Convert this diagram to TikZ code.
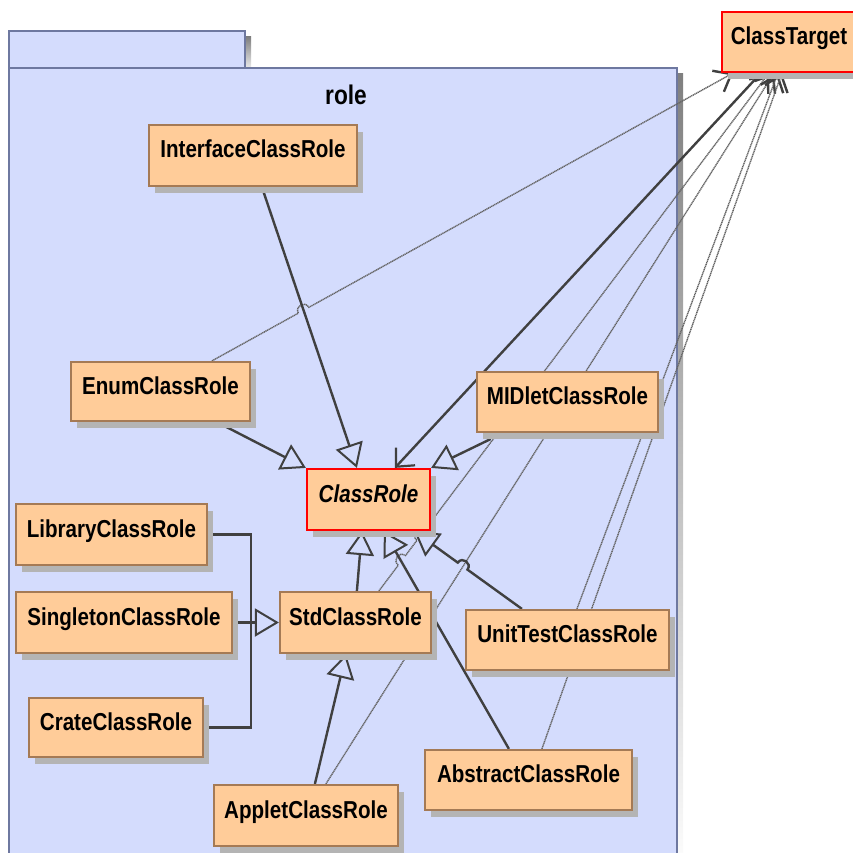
\documentclass[tikz,border=0pt]{standalone}
\usepackage{fontspec}
\newfontfamily\umlfont{Liberation Sans}[FakeStretch=0.84]
\usetikzlibrary{arrows.meta,calc,shadows}
\pgfdeclarelayer{bg}
\pgfdeclarelayer{edges}
\pgfsetlayers{bg,edges,main}

\definecolor{pkgfill}{RGB}{212,220,253}
\definecolor{pkgline}{RGB}{110,120,160}
\definecolor{boxfill}{RGB}{255,204,153}
\definecolor{boxline}{RGB}{165,122,85}
\definecolor{shade}{RGB}{180,180,180}
\definecolor{edgecol}{RGB}{64,64,64}
\definecolor{depcol}{RGB}{100,100,100}

\tikzset{
  classbox/.style={draw=boxline, line width=2.2pt, fill=boxfill, inner sep=0pt,
    text height=17pt, text depth=12pt,
    font=\umlfont\bfseries\fontsize{24.5}{28}\selectfont,
    drop shadow={shadow xshift=6pt, shadow yshift=-7pt, fill=shade, opacity=1}},
  keybox/.style={classbox, draw=red},
  pkgbox/.style={draw=pkgline, line width=2.4pt, fill=pkgfill},
  generalize/.style={draw=edgecol, line width=2.4pt,
    -{Triangle[open, length=24pt, width=28pt, line width=2pt]}},
  plainedge/.style={draw=edgecol, line width=2.4pt},
  assoc/.style={draw=edgecol, line width=2.4pt,
    -{Straight Barb[length=14pt, width=26pt, line width=2.2pt]}},
  depend/.style={draw=depcol, line width=1.4pt, dash pattern=on 1.2pt off 0.6pt,
    -{Straight Barb[length=15pt, width=24pt, line width=2.4pt, color=edgecol]}},
}

% class box given by its corners (x1,y1) (x2,y2)
\newcommand\classnode[7][classbox]{%
  \node[#1, minimum width={#5-#3}, minimum height={#6-#4}] (#2)
    at ({(#3+#5)/2},{(#4+#6)/2}) {#7};}

% straight connector with one line jump at fraction #4
\newcommand\jumpone[5][]{%
  \coordinate (ja) at ($(#2)!#4!(#3)$);
  \draw[#1] (#2) -- ($(ja)!6pt!(#2)$) to[bend #5=90, looseness=1.7]
    ($(ja)!6pt!(#3)$) -- (#3);}

% straight connector with two line jumps at fractions #4 and #5
\newcommand\jumptwo[6][]{%
  \coordinate (ja) at ($(#2)!#4!(#3)$);
  \coordinate (jb) at ($(#2)!#5!(#3)$);
  \draw[#1] (#2) -- ($(ja)!6pt!(#2)$) to[bend #6=90, looseness=1.7]
    ($(ja)!6pt!(#3)$) -- ($(jb)!6pt!(#2)$) to[bend #6=90, looseness=1.7]
    ($(jb)!6pt!(#3)$) -- (#3);}

\begin{document}
\begin{tikzpicture}[x=1pt, y=-1pt]
\useasboundingbox (0,0) rectangle (853,853);

% package "role"
\begin{pgfonlayer}{bg}
  \clip (0,0) rectangle (853,853);
  \fill[shade] (15,37) rectangle (251,74);
  \fill[shade] (15,74) rectangle (683,880);
  \path[pkgbox] (9,31) rectangle (245,68);
  \path[pkgbox] (9,68) rectangle (677,874);
\end{pgfonlayer}

\clip (0,0) rectangle (853,853);
\node[font=\umlfont\bfseries\fontsize{27}{30}\selectfont, anchor=base, inner sep=0pt]
  (pkgname) at (346,105) {role};

% classes
\classnode{ic}{149}{125}{357}{186}{InterfaceClassRole}
\classnode{en}{71}{362}{250}{421}{EnumClassRole}
\classnode{mi}{477}{372}{658}{432}{MIDletClassRole}
\classnode[keybox]{cr}{307}{469}{430}{530}{\itshape ClassRole}
\classnode{li}{16}{504}{207}{565}{LibraryClassRole}
\classnode{si}{16}{592}{232}{653}{SingletonClassRole}
\classnode{ca}{29}{698}{203}{757}{CrateClassRole}
\classnode{sd}{280}{592}{431}{653}{StdClassRole}
\classnode{ut}{466}{610}{669}{670}{UnitTestClassRole}
\classnode{ab}{425}{750}{632}{810}{AbstractClassRole}
\classnode{ap}{214}{785}{398}{846}{AppletClassRole}
\classnode[keybox]{ct}{722}{12}{856}{72}{ClassTarget}

\begin{pgfonlayer}{edges}
  \clip (0,0) rectangle (853,853);
  % connection points on the class borders
  \coordinate (icB) at ($(ic.south west)+(114,0)$);
  \coordinate (enB) at ($(en.south west)+(147,0)$);
  \coordinate (enT) at ($(en.north west)+(142,0)$);
  \coordinate (miB) at ($(mi.south west)+(27,0)$);
  \coordinate (sdT) at ($(sd.north west)+(78,0)$);
  \coordinate (sdT2) at ($(sd.north west)+(100,0)$);
  \coordinate (sdB) at ($(sd.south west)+(67,0)$);
  \coordinate (utT) at ($(ut.north west)+(57,0)$);
  \coordinate (utT2) at ($(ut.north west)+(112,0)$);
  \coordinate (abT) at ($(ab.north west)+(85,0)$);
  \coordinate (abT2) at ($(ab.north west)+(118,0)$);
  \coordinate (apT) at ($(ap.north west)+(102,0)$);
  \coordinate (apT2) at ($(ap.north west)+(113,0)$);
  \coordinate (crT1) at ($(cr.north west)+(51,0)$);
  \coordinate (crT2) at ($(cr.north west)+(89,0)$);
  \coordinate (crB1) at ($(cr.south west)+(56,0)$);
  \coordinate (crB2) at ($(cr.south west)+(78,0)$);
  \coordinate (crB3) at ($(cr.south east)+(-17,0)$);
  \coordinate (ct1) at ($(ct.south west)+(12,0)$);
  \coordinate (ct2) at ($(ct.south west)+(40,0)$);
  \coordinate (ct3) at ($(ct.south west)+(48,0)$);
  \coordinate (ct4) at ($(ct.south west)+(53,0)$);
  \coordinate (ct5) at ($(ct.south west)+(57,0)$);
  \coordinate (ct6) at ($(ct.south west)+(61,0)$);
  \coordinate (bus) at ($(si.east)+(18,0)$);

  % dependencies on ClassTarget
  \jumpone[depend]{enT}{ct1}{0.176}{left}
  \jumptwo[depend]{sdT2}{ct3}{0.059}{0.107}{left}
  \jumpone[depend]{apT2}{ct4}{0.238}{left}
  \draw[depend] (utT2) -- (ct5);
  \draw[depend] (abT2) -- (ct6);

  % association ClassTarget -> ClassRole
  \draw[assoc] (ct2) -- (crT2);

  % generalizations
  \draw[generalize] (icB) -- (crT1);
  \draw[generalize] (enB) -- (cr.north west);
  \jumpone[generalize]{miB}{cr.north east}{0.11}{right}
  \draw[generalize] (sdT) -- (crB1);
  \draw[generalize] (abT) -- (crB2);
  \jumpone[generalize]{utT}{crB3}{0.55}{right}
  \draw[generalize] (apT) -- (sdB);
  \draw[plainedge] (li.east) -| (bus);
  \draw[plainedge] (ca.east) -| (bus);
  \draw[generalize] (si.east) -- (sd.west);
\end{pgfonlayer}
\end{tikzpicture}
\end{document}
